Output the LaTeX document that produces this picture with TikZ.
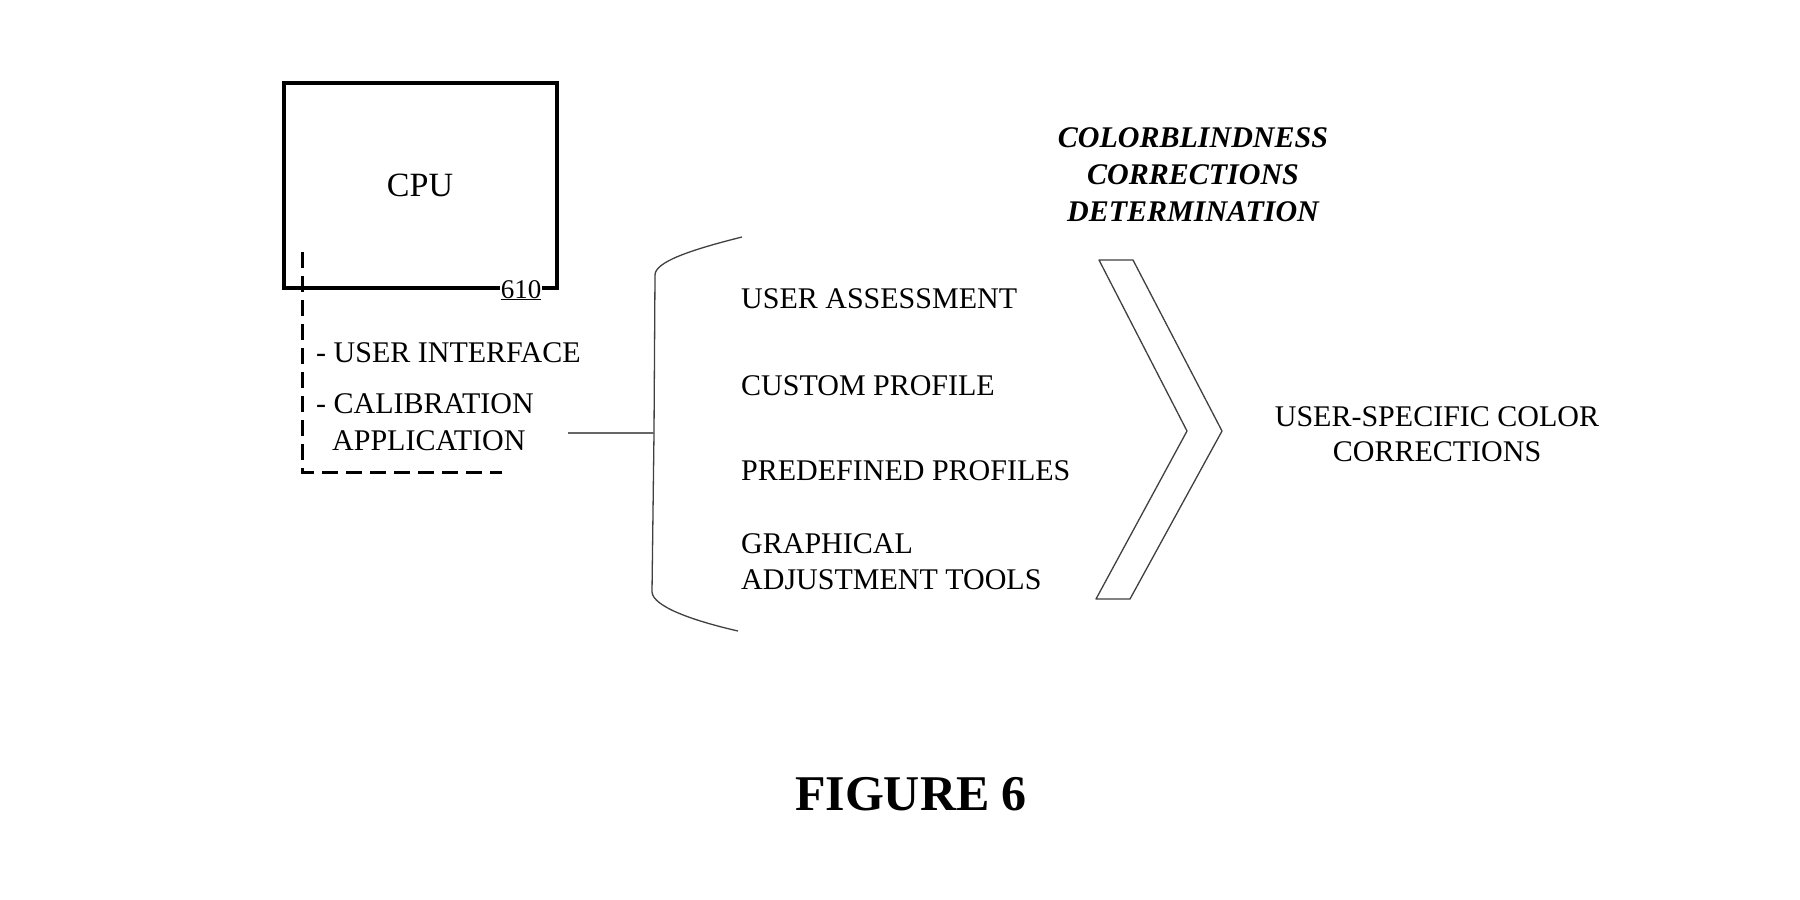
\documentclass[tikz,border=0pt]{standalone}
\usepackage{fontspec}
\setmainfont{Liberation Serif}
\begin{document}
\begin{tikzpicture}[x=1pt,y=-1pt,
  txt/.style={inner sep=0pt, font=\fontsize{30}{36}\selectfont},
  thin line/.style={line width=1.3pt, draw=black!75},
  cpubox/.style={draw, line width=4pt, minimum width=273pt, minimum height=205pt, inner sep=0pt, font=\fontsize{34}{40}\selectfont},
  dashline/.style={line width=3pt, dash pattern=on 16pt off 8pt}
]
\useasboundingbox (0,0) rectangle (1800,900);
\fill[white] (0,0) rectangle (1800,900);

% CPU box
\node[cpubox] (cpu) at (420,185.5) {CPU};
\node[fill=white, inner sep=1pt, anchor=base, font=\fontsize{27}{30}\selectfont] (ref) at (521,298) {\underline{610}};

% dashed outline
\coordinate (d1) at (302,252);
\coordinate (d3) at (502,472);
\draw[dashline] (d1) |- (d3);

% CPU-side texts
\node[txt, anchor=base west] (ui) at (316,362) {- USER INTERFACE};
\node[txt, anchor=base west] (cal) at (316,413) {- CALIBRATION};
\node[txt, anchor=base west] (app) at (332,450) {APPLICATION};

% brace
\coordinate (btop) at (742,237);
\coordinate (bup) at (655,275);
\coordinate (bmid) at (654,433);
\coordinate (blow) at (652,592);
\coordinate (bbot) at (738,631);
\draw[thin line] (btop) .. controls (690,250) and (655,262) .. (bup) -- (bmid) -- (blow) .. controls (653,606) and (690,620) .. (bbot);

% connector
\coordinate (cstart) at (568,433);
\draw[thin line, draw=black!60] (cstart) -- (bmid);

% items
\node[txt, anchor=base west] (ua) at (741,308) {USER ASSESSMENT};
\node[txt, anchor=base west] (cp) at (741,395) {CUSTOM PROFILE};
\node[txt, anchor=base west] (pp) at (741,480) {PREDEFINED PROFILES};
\node[txt, anchor=west, align=left] (ga) at (741,562) {GRAPHICAL\\ADJUSTMENT TOOLS};

% chevron
\coordinate (c1) at (1099,260);
\coordinate (c2) at (1133,260);
\coordinate (c3) at (1222,431);
\coordinate (c4) at (1130,599);
\coordinate (c5) at (1096,599);
\coordinate (c6) at (1187,431);
\draw[thin line, line join=round] (c1) -- (c2) -- (c3) -- (c4) -- (c5) -- (c6) -- cycle;

% heading
\node[inner sep=0pt, align=center, font=\fontsize{30}{37}\selectfont\bfseries\itshape] (head) at (1193,175) {COLORBLINDNESS\\CORRECTIONS\\DETERMINATION};

% output
\node[inner sep=0pt, align=center, font=\fontsize{30}{35}\selectfont] (out) at (1437,434.5) {USER-SPECIFIC COLOR\\CORRECTIONS};

% caption
\node[inner sep=0pt, anchor=base, font=\fontsize{50}{56}\selectfont\bfseries] (fig) at (911,810) {FIGURE 6};
\end{tikzpicture}
\end{document}
